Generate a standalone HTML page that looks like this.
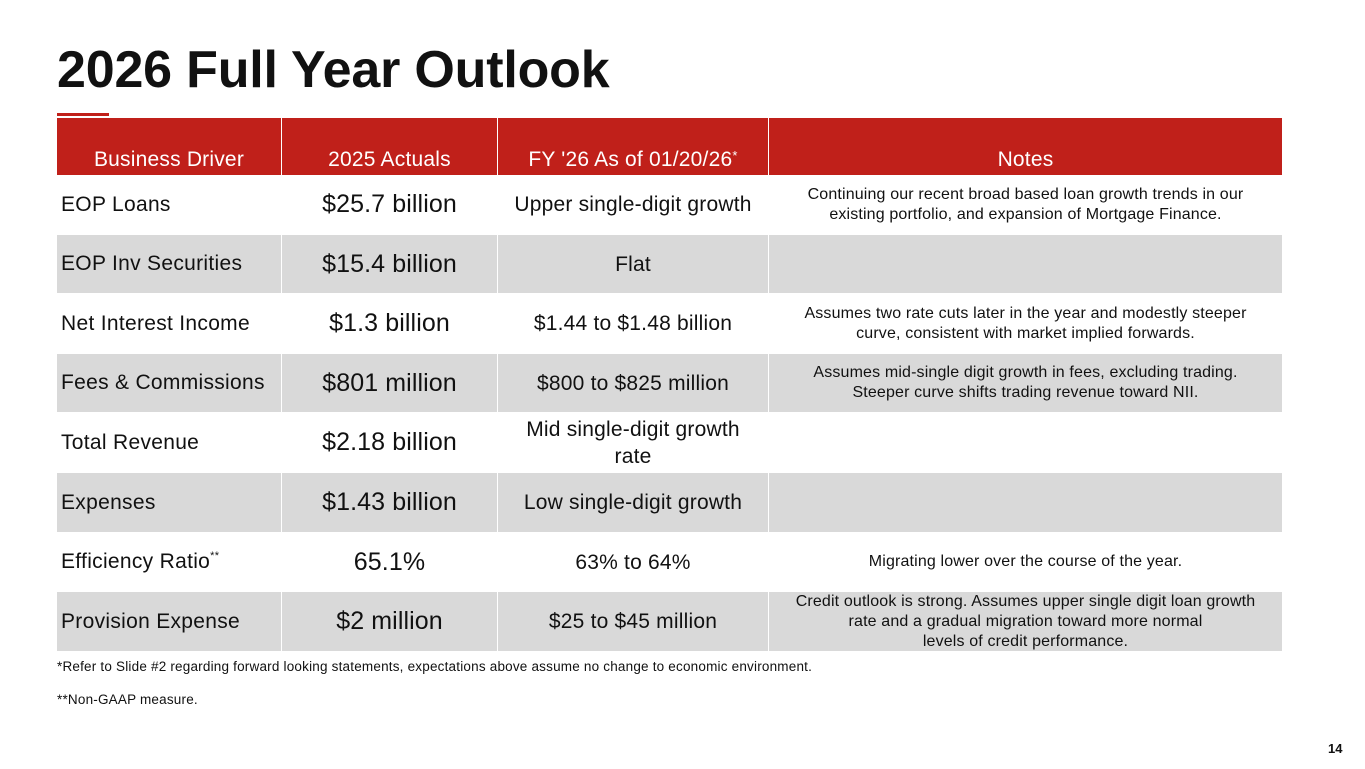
<!DOCTYPE html>
<html><head><meta charset="utf-8"><style>
body{margin:0;width:1365px;height:769px;background:#fff;font-family:"Liberation Sans",sans-serif;position:relative;overflow:hidden;color:#111}
.t{position:absolute;left:57px;top:40px;font-size:52px;font-weight:bold;letter-spacing:-0.2px}
.ul{position:absolute;left:57px;top:113px;width:52px;height:3px;background:#c0201a}
.c{position:absolute;display:flex;align-items:center;justify-content:center;text-align:center;box-sizing:border-box;white-space:nowrap}
.h{background:#c0201a;color:#fff;font-size:21px;letter-spacing:.2px;align-items:flex-end;padding-bottom:3px}
.g{background:#d9d9d9}
.l{justify-content:flex-start;padding-left:4px}
.f1{font-size:21px;letter-spacing:.3px}.f2{font-size:25px;letter-spacing:.1px}.f3{font-size:21px;letter-spacing:.2px}.f4{font-size:16px;line-height:20px;letter-spacing:.15px}
.fn{position:absolute;left:57px;font-size:13.5px;letter-spacing:.2px}
.s{font-size:13px;display:inline-block;transform:translateY(-9px)}
</style></head><body>
<div class="t">2026 Full Year Outlook</div>
<div class="ul"></div>
<div id="tbl"></div>
<div class="fn" style="top:659px">*Refer to Slide #2 regarding forward looking statements, expectations above assume no change to economic environment.</div>
<div class="fn" style="top:692px">**Non-GAAP measure.</div>
<div style="position:absolute;left:1328px;top:741px;font-size:13px;font-weight:bold">14</div>
<script>
const cols=[[57,224],[282,215],[498,270],[769,513]];
const heads=["Business Driver","2025 Actuals","FY '26 As of 01/20/26<span class='s'>*</span>","Notes"];
const rows=[
["EOP Loans","$25.7 billion","Upper single-digit growth","Continuing our recent broad based loan growth trends in our<br>existing portfolio, and expansion of Mortgage Finance."],
["EOP Inv Securities","$15.4 billion","Flat",""],
["Net Interest Income","$1.3 billion","$1.44 to $1.48 billion","Assumes two rate cuts later in the year and modestly steeper<br>curve, consistent with market implied forwards."],
["Fees &amp; Commissions","$801 million","$800 to $825 million","Assumes mid-single digit growth in fees, excluding trading.<br>Steeper curve shifts trading revenue toward NII."],
["Total Revenue","$2.18 billion","Mid single-digit growth<br>rate",""],
["Expenses","$1.43 billion","Low single-digit growth",""],
["Efficiency Ratio<span class='s' style='font-size:11px;transform:translateY(-6px)'>**</span>","65.1%","63% to 64%","Migrating lower over the course of the year."],
["Provision Expense","$2 million","$25 to $45 million","Credit outlook is strong. Assumes upper single digit loan growth<br>rate and a gradual migration toward more normal<br>levels of credit performance."]];
const rowTop=[175,235,294,354,413,473,533,592,652];
const tbl=document.getElementById('tbl');
heads.forEach((h,i)=>{const d=document.createElement('div');d.className='c h';


d.style.cssText=`left:${cols[i][0]}px;width:${cols[i][1]}px;top:118px;height:57px`;d.innerHTML=h;tbl.appendChild(d);});
rows.forEach((r,ri)=>{r.forEach((v,ci)=>{const d=document.createElement('div');
d.className='c f'+(ci+1)+(ri%2?' g':'')+(ci==0?' l':'');


d.style.cssText=`left:${cols[ci][0]}px;width:${cols[ci][1]}px;top:${rowTop[ri]}px;height:${rowTop[ri+1]-rowTop[ri]-1}px;line-height:${ci==2?'27px':''}`;
d.innerHTML=v;tbl.appendChild(d);});});
</script>
</body></html>
